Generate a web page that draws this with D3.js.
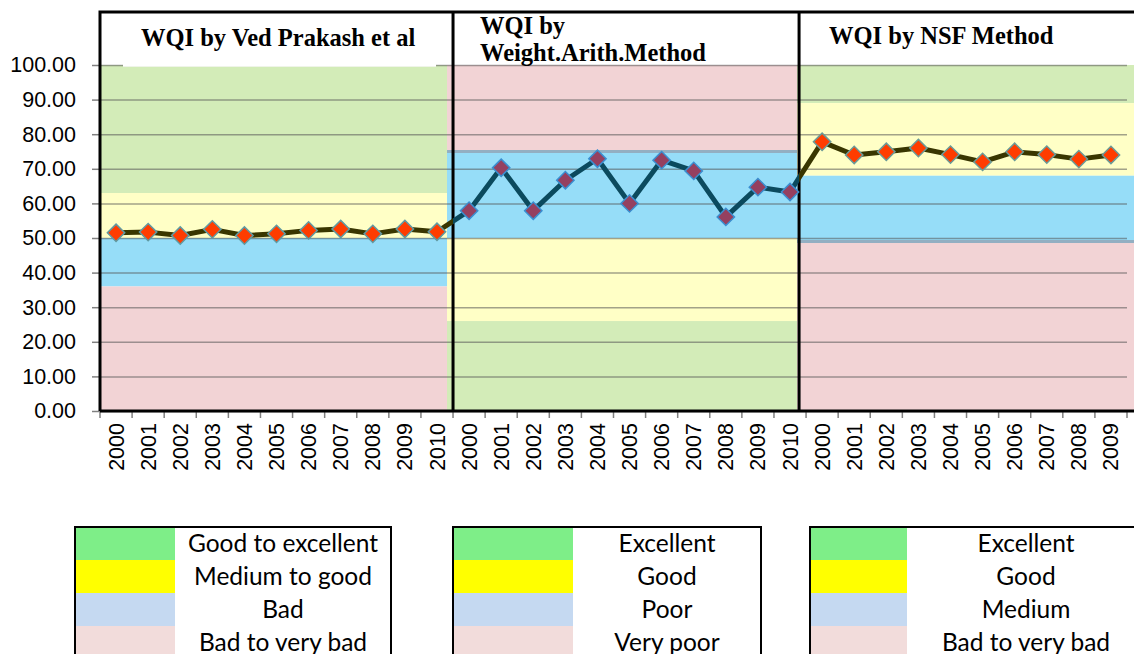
<!DOCTYPE html>
<html>
<head>
<meta charset="utf-8">
<script src="https://cdn.jsdelivr.net/npm/d3@7"></script>
<style>
  html, body { margin: 0; padding: 0; background: #fff; }
  svg { display: block; }
</style>
</head>
<body>
<svg id="chart" width="1134" height="654"></svg>
<script>
// ---------------- DATA ----------------
const years1 = ["2000","2001","2002","2003","2004","2005","2006","2007","2008","2009","2010"];
const years2 = ["2000","2001","2002","2003","2004","2005","2006","2007","2008","2009","2010"];
const years3 = ["2000","2001","2002","2003","2004","2005","2006","2007","2008","2009"];

const wqiVed  = [51.5, 51.7, 50.7, 52.5, 50.7, 51.2, 52.2, 52.6, 51.2, 52.6, 51.8];
const wqiWA   = [57.9, 70.3, 57.9, 66.7, 72.9, 60.0, 72.5, 69.4, 56.1, 64.7, 63.3];
const wqiNSF  = [77.8, 74.0, 74.9, 76.0, 74.1, 72.0, 74.9, 74.1, 72.8, 74.0];

const titles = [["WQI by Ved Prakash et al"], ["WQI by", "Weight.Arith.Method"], ["WQI by NSF Method"]];

// class ranges, ordered: best class, 2nd, 3rd, worst
const rangesVed = [[63, 100], [50, 63], [36, 50], [0, 36]];
const rangesWA  = [[0, 26], [26, 50], [50, 75], [75, 100]];
const rangesNSF = [[89, 100], [68, 89], [49, 68], [0, 49]];

const legendVed = ["Good to excellent", "Medium to good", "Bad", "Bad to very bad"];
const legendWA  = ["Excellent", "Good", "Poor", "Very poor"];
const legendNSF = ["Excellent", "Good", "Medium", "Bad to very bad"];

const yTicks = [0, 10, 20, 30, 40, 50, 60, 70, 80, 90, 100];

// ---------------- STYLE ----------------
const bandColors   = ["#d3ecb8", "#ffffc6", "#96ddf8", "#f2d3d5"];
const legendColors = ["#7eee88", "#ffff00", "#c5d9f1", "#f2dcdb"];

(function () {
const svg = d3.select("#chart");
const W = 1134, H = 654;
const pL = 100, pR = 1127, pT = 65, pB = 411, boxTop = 12;

const labels = [...years1, ...years2, ...years3];
const idx = d3.range(labels.length);
const x = d3.scaleBand().domain(idx).range([pL, pR]).padding(0);
const y = d3.scaleLinear().domain([0, 100]).range([pB, pT]);
const bw = x.bandwidth();
const cx = i => x(i) + bw / 2;

const n1 = years1.length, n2 = years2.length;
const div1 = x(n1);
const div2 = x(n1 + n2) - 7;

const sections = [
  { ranges: rangesVed, x0: pL, x1: div1 - 2, edge: null },
  { ranges: rangesWA,  x0: div1 - 6, x1: div2 - 2, edge: 1 },
  { ranges: rangesNSF, x0: div2 - 2, x1: W + 10, edge: 0 }
];

// bands
sections.forEach(s => {
  svg.append("g").selectAll("rect").data(s.ranges).join("rect")
    .attr("x", s.x0).attr("width", s.x1 - s.x0)
    .attr("y", d => y(d[1])).attr("height", d => y(d[0]) - y(d[1]))
    .attr("fill", (d, i) => bandColors[i]);
  if (s.edge !== null) {
    const v = s.ranges[2][s.edge];
    svg.append("line").attr("x1", s.x0).attr("x2", s.x1).attr("y1", y(v)).attr("y2", y(v))
      .attr("stroke", "#93afc2").attr("stroke-width", 3);
  }
});

// gridlines
const grid = svg.append("g").attr("transform", `translate(${pL},0)`)
  .call(d3.axisLeft(y).tickValues(yTicks).tickSize(-(pR - pL)).tickFormat(""));
grid.select(".domain").remove();
grid.selectAll("line").attr("stroke", "#555").attr("stroke-opacity", 0.55).attr("stroke-width", 1.5);

// white title area (section 1 covers the top gridline)
svg.append("rect").attr("x", pL + 23).attr("y", boxTop).attr("width", div1 - 17 - (pL + 23))
  .attr("height", y(99.5) - boxTop).attr("fill", "#fff");

// y axis
const ya = svg.append("g").attr("transform", `translate(${pL},0)`)
  .call(d3.axisLeft(y).tickValues(yTicks).tickSize(8).tickPadding(16).tickFormat(d3.format(".2f")));
ya.select(".domain").remove();
ya.selectAll("line").attr("stroke", "#808080").attr("stroke-width", 1.5);
ya.selectAll("text").attr("font-family", "Liberation Sans, Arial, sans-serif").attr("font-size", 21.5).attr("fill", "#000");

// x axis
const xa = svg.append("g").attr("transform", `translate(0,${pB})`)
  .call(d3.axisBottom(x).tickSize(0).tickFormat(i => labels[i]));
xa.select(".domain").remove();
xa.selectAll("text")
  .attr("font-family", "Liberation Sans, Arial, sans-serif").attr("font-size", 21.5)
  .attr("fill", "#000")
  .attr("transform", "rotate(-90)")
  .attr("text-anchor", "end")
  .attr("x", -12).attr("y", 0).attr("dy", "0.35em");
// boundary ticks
svg.append("g").selectAll("line").data([...idx, labels.length]).join("line")
  .attr("x1", i => i < labels.length ? x(i) : pR).attr("x2", i => i < labels.length ? x(i) : pR)
  .attr("y1", pB).attr("y2", pB + 7)
  .attr("stroke", "#808080").attr("stroke-width", 1.5);

// section boxes
svg.append("path")
  .attr("d", `M${pL},${pB} V${boxTop} H${W + 5} M${div1},${boxTop} V${pB} M${div2},${boxTop} V${pB} M${pL},${pB} H${W + 5}`)
  .attr("fill", "none").attr("stroke", "#000").attr("stroke-width", 3);

// titles
const titleX = [pL + 41, div1 + 27, div2 + 30];
const titleY = [[46], [34, 61], [44]];
titles.forEach((t, k) => {
  t.forEach((line, j) => {
    svg.append("text").attr("x", titleX[k]).attr("y", titleY[k][j])
      .attr("font-family", "Liberation Serif, Times New Roman, serif")
      .attr("font-weight", "bold").attr("font-size", 24.5).attr("fill", "#000")
      .text(line);
  });
});

// line series with clipping per section
const allVals = [...wqiVed, ...wqiWA, ...wqiNSF];
const lineGen = d3.line().x((d, i) => cx(i)).y(d => y(d));
const defs = svg.append("defs");
const clipRanges = [[0, div1], [div1, div2], [div2, W + 10]];
const lineColors = ["#393600", "#0b4a5e", "#393600"];
clipRanges.forEach((r, k) => {
  defs.append("clipPath").attr("id", "clip" + k).append("rect")
    .attr("x", r[0]).attr("y", 0).attr("width", r[1] - r[0]).attr("height", H);
  svg.append("path").datum(allVals).attr("d", lineGen)
    .attr("clip-path", `url(#clip${k})`)
    .attr("fill", "none").attr("stroke", lineColors[k]).attr("stroke-width", 5)
    .attr("stroke-linejoin", "round");
});

// markers
const markerFill = ["#ff3c00", "#954060", "#ff3c00"];
const markerStroke = ["#5f9aa3", "#3a8ed0", "#6a9a98"];
const seriesList = [wqiVed, wqiWA, wqiNSF];
const offsets = [0, n1, n1 + n2];
const dsym = d3.symbol().type(d3.symbolSquare).size(150);
seriesList.forEach((vals, k) => {
  svg.append("g").selectAll("path").data(vals).join("path")
    .attr("d", dsym)
    .attr("transform", (d, i) => `translate(${cx(i + offsets[k])},${y(d)}) rotate(45)`)
    .attr("fill", markerFill[k]).attr("stroke", markerStroke[k]).attr("stroke-width", 1.5);
});

// legends
const legends = [
  { items: legendVed, x0: 75, x1: 391, sw: 100 },
  { items: legendWA,  x0: 453, x1: 761, sw: 120 },
  { items: legendNSF, x0: 810, x1: 1145, sw: 97 }
];
const legTop = 527, rowH = 33;
legends.forEach(L => {
  const g = svg.append("g");
  g.selectAll("rect").data(L.items).join("rect")
    .attr("x", L.x0).attr("y", (d, i) => legTop + i * rowH)
    .attr("width", L.sw).attr("height", rowH + 0.5)
    .attr("fill", (d, i) => legendColors[i]);
  g.selectAll("text").data(L.items).join("text")
    .attr("x", (L.x0 + L.sw + L.x1) / 2).attr("y", (d, i) => legTop + (i + 0.5) * rowH)
    .attr("dy", "0.35em").attr("text-anchor", "middle")
    .attr("font-family", "Lato, Open Sans, sans-serif").attr("font-size", 24.5).attr("fill", "#000")
    .text(d => d);
  g.append("path")
    .attr("d", `M${L.x0},${H + 5} V${legTop} H${L.x1} V${H + 5}`)
    .attr("fill", "none").attr("stroke", "#000").attr("stroke-width", 2);
});
})();
</script>
</body>
</html>
